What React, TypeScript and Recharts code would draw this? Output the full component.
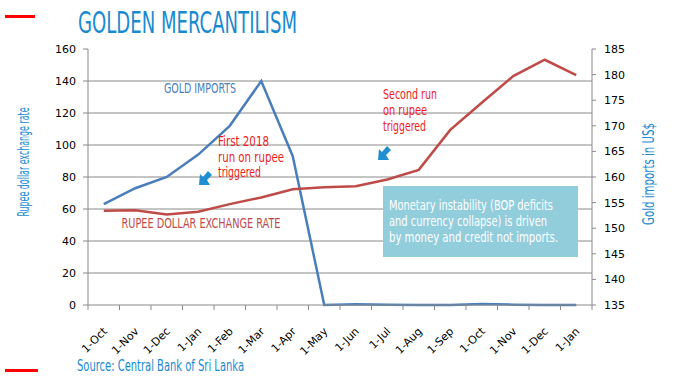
import { Line, LineChart, ReferenceLine, XAxis, YAxis } from "recharts";

const months = [
  "1-Oct", "1-Nov", "1-Dec", "1-Jan", "1-Feb", "1-Mar", "1-Apr", "1-May",
  "1-Jun", "1-Jul", "1-Aug", "1-Sep", "1-Oct", "1-Nov", "1-Dec", "1-Jan",
];
const goldImports = [63, 73, 80, 94, 112, 140, 93, 0, 0.5, 0.2, 0, 0, 0.6, 0.2, 0, 0];
const rupeeRate = [
  153.4, 153.5, 152.7, 153.2, 154.7, 156, 157.6, 158, 158.2, 159.5, 161.4, 169.2,
  174.5, 179.7, 182.9, 179.9,
];
const leftTicks = [0, 20, 40, 60, 80, 100, 120, 140, 160];
const rightTicks = [135, 140, 145, 150, 155, 160, 165, 170, 175, 180, 185];

const data = months.map((m, i) => ({
  month: m,
  gold: goldImports[i],
  rupee: rupeeRate[i],
}));

const BLUE = "#4a7ebb";
const RED = "#be4b48";
const NOTE_RED = "#ec1c1c";
const TITLE_BLUE = "#1a8ad0";
const GRID = "#8a8a8a";
const BAND = 504 / months.length;

function MonthTick(props: any) {
  const { x, y, payload, index } = props;
  return (
    <g>
      <line x1={x - BAND / 2} y1={y - 8} x2={x - BAND / 2} y2={y - 3} stroke={GRID} />
      {index === months.length - 1 && (
        <line x1={x + BAND / 2} y1={y - 8} x2={x + BAND / 2} y2={y - 3} stroke={GRID} />
      )}
      <text
        x={x + 4}
        y={y + 19}
        transform={`rotate(-45 ${x + 4} ${y + 19})`}
        textAnchor="end"
        fontSize={11}
        fontFamily="'DejaVu Sans', sans-serif"
        fill="#000"
      >
        {payload.value}
      </text>
    </g>
  );
}

function Narrow(props: any) {
  const { x, y, len, size, fill, rotate, children } = props;
  return (
    <text
      x={x}
      y={y}
      fontSize={size}
      fill={fill}
      fontFamily="'DejaVu Sans', sans-serif"
      fontStretch="condensed"
      textLength={len}
      lengthAdjust="spacingAndGlyphs"
      textAnchor={rotate ? "middle" : "start"}
      dominantBaseline={rotate ? "central" : "auto"}
      transform={rotate ? `rotate(-90 ${x} ${y})` : undefined}
    >
      {children}
    </text>
  );
}

export default function App() {
  return (
    <div style={{ position: "absolute", left: 0, top: 0, width: 680, height: 383, background: "#fff", overflow: "hidden" }}>
      <LineChart
        width={680}
        height={383}
        data={data}
        margin={{ top: 49, right: 28, left: 28, bottom: 28 }}
      >
        <XAxis
          dataKey="month"
          interval={0}
          height={50}
          tickLine={false}
          stroke={GRID}
          padding={{ left: BAND / 2, right: BAND / 2 }}
          tick={<MonthTick />}
        />
        <YAxis
          yAxisId="left"
          domain={[0, 160]}
          ticks={leftTicks}
          width={60}
          stroke={GRID}
          tickSize={5}
          tickMargin={7}
          tick={{ fill: "#000", fontSize: 11, fontFamily: "'DejaVu Sans', sans-serif" }}
        />
        <YAxis
          yAxisId="right"
          orientation="right"
          domain={[135, 185]}
          ticks={rightTicks}
          width={60}
          stroke={GRID}
          tickSize={4}
          tickMargin={8}
          tick={{ fill: "#000", fontSize: 11, fontFamily: "'DejaVu Sans', sans-serif" }}
        />
        {leftTicks
          .filter((v) => v > 0 && v < 160)
          .map((v) => (
            <ReferenceLine key={v} yAxisId="left" y={v} stroke={GRID} />
          ))}
        <Line
          yAxisId="left"
          dataKey="gold"
          stroke={BLUE}
          strokeWidth={2.5}
          dot={false}
          isAnimationActive={false}
        />
        <Line
          yAxisId="right"
          dataKey="rupee"
          stroke={RED}
          strokeWidth={2.5}
          dot={false}
          isAnimationActive={false}
        />
      </LineChart>

      <div
        style={{
          position: "absolute",
          left: 383,
          top: 186,
          width: 195,
          height: 71,
          background: "#92cddc",
        }}
      />

      <svg style={{ position: "absolute", left: 0, top: 0 }} width={680} height={383}>
        <rect x={5} y={15} width={30} height={3} fill="#ff0000" />
        <rect x={5} y={369} width={33} height={3} fill="#ff0000" />

        <Narrow x={78} y={33} len={219} size={30} fill={TITLE_BLUE}>GOLDEN MERCANTILISM</Narrow>
        <Narrow x={77} y={371} len={167} size={15} fill={TITLE_BLUE}>Source: Central Bank of Sri Lanka</Narrow>

        <Narrow x={23} y={162} len={109} size={16.5} fill={TITLE_BLUE} rotate>Rupee dollar exchange rate</Narrow>
        <Narrow x={648} y={174} len={102} size={16.5} fill={TITLE_BLUE} rotate>Gold imports in US$</Narrow>

        <Narrow x={164} y={93} len={72} size={14} fill={BLUE}>GOLD IMPORTS</Narrow>
        <Narrow x={121.5} y={228} len={159} size={14} fill={RED}>RUPEE DOLLAR EXCHANGE RATE</Narrow>

        <Narrow x={218} y={146} len={51} size={13.5} fill={NOTE_RED}>First 2018</Narrow>
        <Narrow x={218} y={161.5} len={66} size={13.5} fill={NOTE_RED}>run on rupee</Narrow>
        <Narrow x={218} y={177} len={43} size={13.5} fill={NOTE_RED}>triggered</Narrow>

        <Narrow x={383} y={99} len={54} size={13.5} fill={NOTE_RED}>Second run</Narrow>
        <Narrow x={383} y={115} len={44} size={13.5} fill={NOTE_RED}>on rupee</Narrow>
        <Narrow x={383} y={131} len={43} size={13.5} fill={NOTE_RED}>triggered</Narrow>

        <Narrow x={389} y={210} len={164} size={14} fill="#fff">Monetary instability (BOP deficits</Narrow>
        <Narrow x={389} y={225.7} len={158} size={14} fill="#fff">and currency collapse) is driven</Narrow>
        <Narrow x={389} y={241.5} len={169} size={14} fill="#fff">by money and credit not imports.</Narrow>

        <g fill="#1f8fd0">
          <path d="M199,185 L200,174 L203,177 L208,171 L212,175 L207,180 L210,185 Z" />
          <path d="M378,160 L379,149 L382,152 L387,146 L391,150 L386,155 L389,160 Z" />
        </g>
      </svg>
    </div>
  );
}
